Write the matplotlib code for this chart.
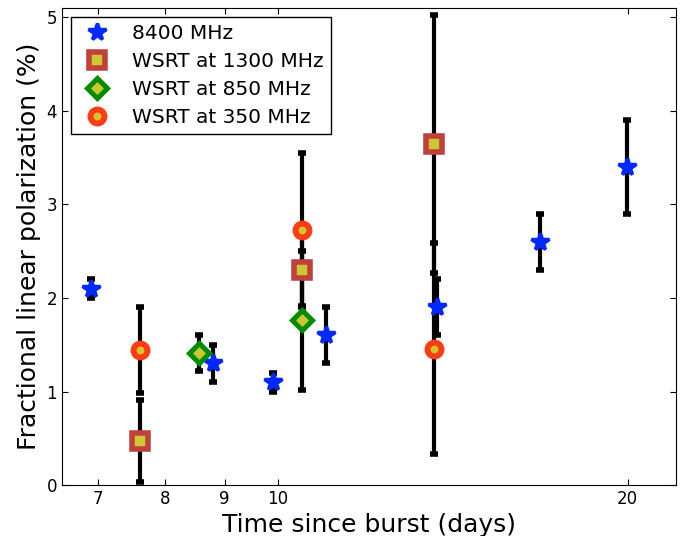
import matplotlib
matplotlib.use("Agg")
import matplotlib.pyplot as plt
from matplotlib.ticker import FixedLocator, FixedFormatter, NullLocator

# 8400 MHz
t_8400 = [6.90, 8.79, 9.90, 11.0, 13.70, 16.8, 19.97]
p_8400 = [2.10, 1.30, 1.10, 1.60, 1.90, 2.60, 3.40]
e_8400 = [0.10, 0.20, 0.10, 0.30, 0.30, 0.30, 0.50]

# WSRT 1300 MHz
t_1300 = [7.61, 10.49, 13.62]
p_1300 = [0.47, 2.30, 3.65]
e_1300 = [0.44, 0.40, 1.38]

# WSRT 850 MHz
t_850 = [8.55, 10.49]
p_850 = [1.41, 1.76]
e_850 = [0.19, 0.74]

# WSRT 350 MHz
t_350 = [7.61, 10.49, 13.62]
p_350 = [1.44, 2.73, 1.46]
e_350 = [0.46, 0.82, 1.13]

xticks = [7, 8, 9, 10, 20]
yticks = [0, 1, 2, 3, 4, 5]

yellow = '#cdc832'

fig = plt.figure(figsize=(6.96, 5.36), dpi=100)
ax = fig.add_axes([0.089, 0.095, 0.882, 0.890])
ax.set_xscale('log')

eb = dict(fmt='none', ecolor='black', elinewidth=3, capsize=3, capthick=4, zorder=2)
ax.errorbar(t_350, p_350, yerr=e_350, **eb)
ax.errorbar(t_1300, p_1300, yerr=e_1300, **eb)
ax.errorbar(t_850, p_850, yerr=e_850, **eb)
ax.errorbar(t_8400, p_8400, yerr=e_8400, **eb)

ax.plot(t_8400, p_8400, linestyle='none', marker='*', markersize=13,
        color='#0028ff', markeredgecolor='#0028ff', markeredgewidth=2.5,
        label='8400 MHz', zorder=4)
ax.plot(t_1300, p_1300, linestyle='none', marker='s', markersize=12,
        markerfacecolor=yellow, markeredgecolor='#c0413c', markeredgewidth=4,
        label='WSRT at 1300 MHz', zorder=4)
ax.plot(t_850, p_850, linestyle='none', marker='D', markersize=10,
        markerfacecolor=yellow, markeredgecolor='#008c00', markeredgewidth=3.6,
        label='WSRT at 850 MHz', zorder=4)
ax.plot(t_350, p_350, linestyle='none', marker='o', markersize=10,
        markerfacecolor=yellow, markeredgecolor='#ff3c14', markeredgewidth=4.3,
        label='WSRT at 350 MHz', zorder=3)

ax.set_xlim(6.52, 22.0)
ax.set_ylim(0, 5.1)
ax.xaxis.set_major_locator(FixedLocator(xticks))
ax.xaxis.set_major_formatter(FixedFormatter([str(v) for v in xticks]))
ax.xaxis.set_minor_locator(NullLocator())
ax.set_yticks(yticks)
ax.tick_params(direction='in', top=True, right=True, length=4, labelsize=12)

ax.set_xlabel('Time since burst (days)', fontsize=18)
ax.set_ylabel('Fractional linear polarization (%)', fontsize=18)

leg = ax.legend(loc='upper left', numpoints=1, fontsize=14.5, fancybox=False,
                framealpha=1, edgecolor='black', borderaxespad=0.45,
                handletextpad=0.8, borderpad=0.35, labelspacing=0.45,
                handlelength=1.9)
leg.get_frame().set_linewidth(1)

fig.savefig('out.png', dpi=100)
